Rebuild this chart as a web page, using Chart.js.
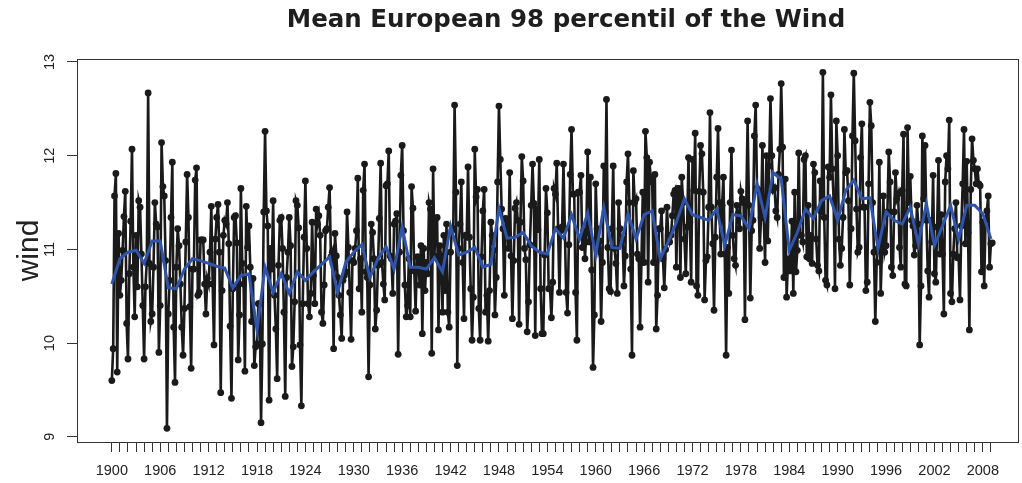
<!DOCTYPE html>
<html>
<head>
<meta charset="utf-8">
<script src="https://cdn.jsdelivr.net/npm/chart.js@4.4.0/dist/chart.umd.min.js"></script>
<style>
  html, body { margin: 0; padding: 0; background: #fff; }
</style>
</head>
<body>
<canvas id="windChart" width="1022" height="483"></canvas>
<script>
// wind values, 6 samples per year
const firstYear = 1900;
const samplesPerYear = 6;

const wind1900to1918 = [
  9.60, 9.94, 11.57, 11.81, 9.69, 11.17, 10.51, 10.67, 10.99, 11.35,
  11.62, 10.21, 9.83, 10.74, 11.30, 12.07, 10.81, 10.28, 11.15, 10.60,
  11.52, 11.45, 10.95, 10.40, 9.83, 10.60, 10.87, 12.67, 10.85, 10.23,
  10.31, 10.81, 11.50, 11.27, 11.24, 9.90, 10.40, 12.14, 11.67, 11.57,
  10.88, 9.09, 10.31, 10.67, 11.34, 11.93, 10.17, 9.58, 10.81, 11.22,
  11.04, 10.63, 10.17, 9.87, 10.37, 11.08, 11.80, 11.34, 10.39, 9.73,
  10.79, 10.79, 11.74, 11.87, 10.51, 10.54, 11.10, 11.10, 11.10, 10.63,
  10.31, 10.69, 10.63, 10.97, 11.46, 10.63, 9.98, 11.11, 11.34, 11.48,
  10.97, 9.47, 10.56, 11.15, 11.31, 11.27, 11.50, 11.06, 10.18, 9.41,
  10.58, 11.34, 11.36, 11.07, 9.82, 10.30, 11.65, 10.85, 10.63, 9.70,
  11.46, 11.02, 11.25, 10.81, 10.23, 10.69, 9.76, 9.96, 9.99, 10.42,
  10.42, 9.15
];
const wind1918to1930 = [
  9.99, 11.40, 12.26, 11.41, 11.25, 9.39, 11.01, 10.79, 11.52, 10.51,
  10.15, 9.62, 10.83, 11.31, 11.34, 11.01, 10.33, 9.43, 10.70, 10.97,
  11.34, 11.04, 9.75, 9.96, 10.44, 11.52, 11.47, 11.23, 9.98, 9.33,
  10.42, 11.13, 11.73, 11.01, 10.42, 10.28, 10.53, 11.29, 10.72, 10.42,
  11.43, 11.27, 11.36, 11.15, 10.33, 10.21, 10.62, 11.20, 11.22, 11.45,
  11.66, 10.92, 10.97, 9.94, 11.17, 10.93, 10.70, 10.51, 10.30, 10.05,
  10.67, 10.72, 10.76, 11.40, 11.02, 10.54, 10.04, 10.88, 10.86
];
const wind1930to1941 = [
  11.01, 11.20, 11.76, 10.58, 10.90, 10.33, 11.63, 11.91, 10.76, 10.70,
  9.64, 10.62, 11.27, 11.18, 10.90, 10.15, 10.35, 10.83, 11.33, 11.92,
  10.86, 10.63, 10.46, 11.68, 11.70, 12.05, 10.93, 10.90, 10.53, 11.27,
  11.30, 11.38, 9.88, 10.97, 11.79, 12.11, 11.20, 10.62, 10.28, 10.40,
  10.90, 10.28, 11.67, 11.44, 10.77, 10.34, 10.92, 10.92, 10.62, 11.04,
  10.10, 11.01, 10.56, 10.86, 10.74, 11.50, 11.43, 9.89, 11.86, 10.93,
  11.33, 11.34, 10.14, 11.04, 10.93, 10.33, 11.15
];
const wind1941to1952 = [
  10.56, 11.27, 10.33, 10.17, 10.97, 11.20, 11.22, 12.54, 11.61, 9.76,
  11.01, 11.27, 11.72, 10.86, 10.26, 11.15, 11.13, 11.88, 11.13, 10.58,
  10.03, 10.49, 12.07, 11.56, 11.64, 10.37, 10.03, 10.92, 11.41, 11.64,
  10.33, 10.51, 10.02, 10.56, 11.29, 11.15, 10.99, 10.30, 10.70, 11.72,
  12.53, 11.96, 11.43, 11.22, 10.51, 11.33, 11.31, 11.01, 11.82, 10.93,
  10.26, 10.88, 11.44, 11.50, 11.31, 10.20, 11.29, 11.99, 11.73, 11.01,
  10.89, 10.12, 10.44, 11.05, 11.47, 11.91, 11.49, 10.08
];
const wind1952to1964 = [
  11.43, 11.21, 11.96, 10.58, 10.10, 10.10, 10.94, 11.65, 11.39, 10.58,
  10.58, 10.27, 10.65, 11.65, 11.59, 11.92, 11.22, 10.54, 11.20, 11.24,
  11.91, 11.22, 10.54, 10.32, 11.05, 11.80, 12.28, 11.59, 11.59, 10.54,
  10.03, 11.61, 11.61, 11.79, 11.02, 11.20, 10.90, 11.18, 12.04, 11.08,
  11.77, 10.78, 9.74, 10.30, 11.70, 11.22, 11.01, 11.09, 10.23, 10.86,
  11.89, 11.40, 12.60, 11.02, 10.58, 10.55, 11.22, 11.89, 11.01, 10.85,
  10.53, 11.50, 11.22, 11.08, 11.11, 10.61, 10.93, 11.72, 12.02, 11.50
];
const wind1964to1975 = [
  10.79, 9.87, 11.84, 11.50, 11.54, 10.95, 10.90, 10.17, 10.86, 11.61,
  10.86, 12.26, 11.98, 10.65, 11.93, 11.76, 11.72, 10.86, 11.80, 10.15,
  10.51, 11.22, 11.22, 11.41, 10.90, 10.59, 11.00, 11.45, 11.15, 11.08,
  11.15, 11.36, 11.59, 11.63, 10.81, 11.65, 11.65, 10.70, 11.77, 11.50,
  11.11, 10.74, 11.24, 11.98, 11.29, 10.65, 11.96, 11.63, 12.24, 10.61,
  10.51, 11.62, 12.11, 12.02, 11.61, 10.46, 10.88, 10.92, 11.45, 12.46,
  11.45, 11.06, 10.35, 11.13, 11.77, 12.29, 11.50, 10.95
];
const wind1975to1987 = [
  11.47, 11.77, 10.95, 9.87, 11.02, 10.53, 11.50, 12.06, 11.15, 10.90,
  10.83, 11.47, 11.38, 11.22, 11.62, 11.54, 11.50, 10.25, 11.50, 12.37,
  11.47, 10.48, 11.20, 11.31, 12.21, 12.54, 11.65, 11.63, 11.01, 11.34,
  12.11, 11.34, 10.86, 12.00, 11.09, 11.89, 12.61, 12.00, 11.63, 11.66,
  11.41, 11.34, 11.80, 12.07, 12.77, 12.09, 10.70, 11.75, 10.49, 10.85,
  10.90, 10.77, 11.30, 10.53, 11.61, 10.76, 10.99, 12.03, 11.15, 11.15,
  11.08, 11.96, 12.00, 10.92, 11.47, 10.90, 11.15, 10.85, 11.91
];
const wind1987to1998 = [
  11.82, 11.11, 10.83, 10.77, 11.73, 11.40, 12.89, 11.34, 10.67, 10.62,
  11.88, 11.77, 12.65, 11.86, 11.52, 10.58, 12.37, 12.00, 11.11, 10.83,
  11.01, 11.34, 12.28, 11.82, 11.84, 11.52, 10.62, 11.22, 12.21, 12.88,
  12.16, 11.43, 10.97, 11.02, 11.98, 12.34, 11.45, 11.45, 10.56, 10.65,
  11.70, 12.57, 12.32, 11.50, 10.97, 10.23, 10.86, 11.01, 11.93, 10.53,
  11.01, 11.57, 10.97, 11.04, 11.40, 12.04, 11.72, 10.81, 10.72, 11.40,
  11.82, 11.54, 11.59, 11.02, 10.81, 11.63, 12.23, 10.63
];
const wind1998to2009 = [
  10.61, 12.30, 11.50, 11.78, 11.31, 11.25, 10.94, 11.04, 11.47, 11.27,
  9.98, 10.61, 12.21, 11.54, 12.11, 11.31, 10.77, 10.49, 11.31, 11.08,
  11.79, 10.74, 10.65, 11.24, 11.95, 10.95, 11.37, 10.95, 10.31, 11.72,
  12.00, 11.86, 12.38, 10.53, 10.44, 10.95, 11.22, 11.50, 10.91, 10.92,
  10.46, 11.25, 11.70, 12.28, 11.06, 11.94, 11.18, 10.14, 11.64, 12.18,
  11.95, 11.86, 11.70, 11.86, 11.70, 11.68, 10.76, 11.29, 10.61, 11.31,
  11.41, 11.57, 10.81, 11.06, 11.07
];

// blue line: yearly mean 1900..2009
const annualMean = [
  10.63, 10.90, 10.97, 10.99, 10.85, 11.09, 11.09, 10.59, 10.58, 10.79,
  10.90, 10.88, 10.85, 10.82, 10.80, 10.59, 10.72, 10.74, 10.14, 10.81,
  10.54, 10.74, 10.53, 10.76, 10.67, 10.76, 10.84, 10.92, 10.54, 10.86,
  10.97, 11.05, 10.70, 10.90, 11.03, 10.79, 11.24, 10.81, 10.81, 10.79,
  10.91, 10.76, 11.25, 10.94, 10.97, 11.02, 10.81, 10.84, 11.44, 11.12,
  11.13, 11.18, 11.04, 10.97, 10.95, 11.22, 11.12, 11.37, 11.11, 11.39,
  10.94, 11.45, 11.02, 11.01, 11.38, 11.11, 11.37, 11.41, 10.90, 11.08,
  11.29, 11.54, 11.37, 11.34, 11.31, 11.43, 11.04, 11.37, 11.36, 11.22,
  11.70, 11.34, 11.82, 11.75, 10.99, 11.18, 11.43, 11.33, 11.52, 11.57,
  11.31, 11.63, 11.74, 11.54, 11.55, 11.01, 11.40, 11.31, 11.27, 11.45,
  11.06, 11.49, 11.04, 11.25, 11.47, 11.11, 11.47, 11.47, 11.38, 11.11
];

const labelYears = [1900, 1906, 1912, 1918, 1924, 1930, 1936, 1942, 1948, 1954,
  1960, 1966, 1972, 1978, 1984, 1990, 1996, 2002, 2008];
const yTicks = [9, 10, 11, 12, 13];

const windValues = [].concat(
  wind1900to1918, wind1918to1930, wind1930to1941, wind1941to1952,
  wind1952to1964, wind1964to1975, wind1975to1987, wind1987to1998,
  wind1998to2009
);

const windPoints = windValues.map((v, i) => ({ x: firstYear + i / samplesPerYear, y: v }));
const meanPoints = annualMean.map((v, i) => ({ x: firstYear + i, y: v }));

const yearTicks = [];
for (let y = firstYear; y < firstYear + annualMean.length; y++) yearTicks.push(y);

const axisFont = "'Liberation Sans', Arial, sans-serif";

const titlePlugin = {
  id: "plotTitle",
  afterDraw(chart) {
    const ctx = chart.ctx;
    ctx.save();
    ctx.font = "bold 24.5px 'DejaVu Sans', sans-serif";
    ctx.fillStyle = "#1e1e1e";
    ctx.textAlign = "center";
    ctx.textBaseline = "middle";
    ctx.fillText("Mean European 98 percentil of the Wind", 566, 21);
    ctx.restore();
  },
};

const boxPlugin = {
  id: "plotBox",
  afterDatasetsDraw(chart) {
    const { ctx, chartArea } = chart;
    ctx.save();
    ctx.strokeStyle = "#333";
    ctx.lineWidth = 1;
    ctx.strokeRect(chartArea.left + 0.5, chartArea.top + 0.5,
      chartArea.right - chartArea.left, chartArea.bottom - chartArea.top);
    ctx.restore();
  },
};

new Chart(document.getElementById("windChart"), {
  type: "line",
  data: {
    datasets: [
      {
        label: "annual mean",
        data: meanPoints,
        borderColor: "#2f54aa",
        borderWidth: 3,
        pointRadius: 0,
        tension: 0,
      },
      {
        label: "wind",
        data: windPoints,
        borderColor: "#1a1a1a",
        borderWidth: 2.6,
        pointRadius: 3.4,
        pointBackgroundColor: "#1a1a1a",
        pointBorderWidth: 0,
        tension: 0,
      },
    ],
  },
  options: {
    responsive: false,
    animation: false,
    devicePixelRatio: 1,
    events: [],
    layout: { padding: { top: 59, right: 1, left: 0, bottom: 0 } },
    plugins: {
      legend: { display: false },
      tooltip: { enabled: false },
      title: { display: false },
    },
    scales: {
      x: {
        type: "linear",
        min: 1895.68,
        max: 2012.36,
        afterBuildTicks: (s) => {
          s.ticks = yearTicks.map((v) => ({ value: v }));
        },
        afterFit: (s) => {
          s.height = 41;
        },
        border: { display: false },
        grid: {
          drawOnChartArea: false,
          drawTicks: true,
          tickLength: 10,
          color: "#333",
          lineWidth: 1,
        },
        ticks: {
          autoSkip: false,
          minRotation: 0,
          maxRotation: 0,
          padding: 10,
          color: "#222",
          font: { family: axisFont, size: 14.5 },
          callback: (v) => (labelYears.includes(v) ? String(v) : ""),
        },
      },
      y: {
        min: 8.944,
        max: 13.032,
        afterBuildTicks: (s) => {
          s.ticks = yTicks.map((v) => ({ value: v }));
        },
        afterFit: (s) => {
          s.width = 77;
        },
        border: { display: false },
        grid: {
          drawOnChartArea: false,
          drawTicks: true,
          tickLength: 10,
          color: "#333",
          lineWidth: 1,
        },
        ticks: {
          minRotation: 90,
          maxRotation: 90,
          crossAlign: "center",
          padding: 9,
          color: "#222",
          font: { family: axisFont, size: 14.5 },
        },
        title: {
          display: true,
          text: "wind",
          color: "#222",
          font: { family: axisFont, size: 30 },
          padding: { top: 12, bottom: 0 },
        },
      },
    },
  },
  plugins: [titlePlugin, boxPlugin],
});
</script>
</body>
</html>
